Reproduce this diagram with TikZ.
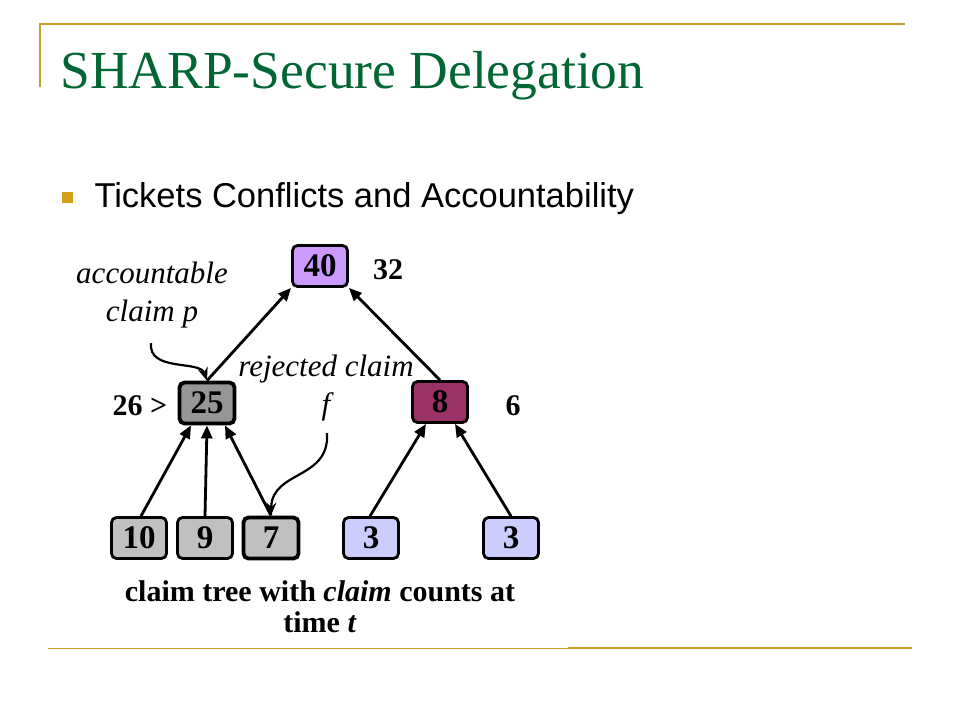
\documentclass[tikz,border=0pt]{standalone}
\usepackage{fontspec}
\setmainfont{Liberation Serif}
\newfontfamily\arialfont{Liberation Sans}
\usetikzlibrary{arrows.meta}
\definecolor{slidegold}{RGB}{196,160,48}
\definecolor{bulletgold}{RGB}{212,160,23}
\definecolor{titlegreen}{RGB}{0,102,51}
\definecolor{rootpurple}{RGB}{204,153,255}
\definecolor{midgray}{RGB}{150,150,150}
\definecolor{leafgray}{RGB}{192,192,192}
\definecolor{leafblue}{RGB}{204,204,255}
\definecolor{plum}{RGB}{153,51,102}

\begin{document}
\begin{tikzpicture}[x=1pt,y=-1pt,
  claim/.style={draw=black,line width=2.8pt,rounded corners=5pt,minimum width=55pt,minimum height=41pt,
    inner sep=0pt,font=\fontsize{33}{33}\selectfont\bfseries},
  heavy/.style={line width=3.8pt},
  count/.style={font=\fontsize{30}{30}\selectfont\bfseries},
  note/.style={font=\fontsize{31}{38}\selectfont\itshape,align=center},
  edge/.style={line width=2.8pt,-{Triangle[length=13pt,width=11pt]}},
  pointer/.style={line width=2.2pt,-{Stealth[length=13pt,width=10pt,open]}}]
\useasboundingbox (0,0) rectangle (960,720);
% slide frame
\draw[slidegold,line width=2pt] (40,87) -- (40,24) -- (905,24);
\draw[slidegold,line width=1pt] (48,648) -- (568,648);
\draw[slidegold,line width=2pt] (568,648) -- (912,648);
\node[anchor=base west,text=titlegreen,font=\fontsize{53.5}{54}\selectfont] (title) at (57,88) {SHARP-Secure Delegation};
\fill[bulletgold] (62,192) rectangle (73,203);
\node[anchor=base west,font=\arialfont\fontsize{34.5}{35}\selectfont] (bullet) at (91,207) {Tickets Conflicts and Accountability};
% claim tree
\node[claim,fill=rootpurple] (n40) at (320,266) {40};
\node[claim,heavy,fill=midgray] (n25) at (207,403) {25};
\node[claim,fill=plum] (n8) at (440,402) {8};
\node[claim,fill=leafgray] (n10) at (139,538) {10};
\node[claim,fill=leafgray] (n9) at (205,538) {9};
\node[claim,heavy,fill=leafgray] (n7) at (271,538) {7};
\node[claim,fill=leafblue] (n3a) at (371,538) {3};
\node[claim,fill=leafblue] (n3b) at (511,538) {3};
\draw[edge] (n25.north) -- (n40.south west);
\draw[edge] (n8.north) -- (n40.south east);
\draw[edge] ([xshift=2pt]n10.north) -- ([xshift=-16pt]n25.south);
\draw[edge] (n9.north) -- (n25.south);
\draw[edge] (n7.north) -- ([xshift=18pt]n25.south);
\draw[edge] ([xshift=-1pt]n3a.north) -- ([xshift=-14pt]n8.south);
\draw[edge] (n3b.north) -- ([xshift=15pt]n8.south);
% counts
\node[count] (c32) at (388,270) {32};
\node[count] (c26) at (140,406) {26 >};
\node[count] (c6) at (513,406) {6};
% notes
\node[note] (acc) at (152,295) {accountable\\claim \textit{p}};
\node[note] (rej) at (326,388) {rejected claim\\\textit{f}};
\draw[pointer] (151,343) .. controls (148,372) and (200,360) .. (n25.north);
\draw[pointer] (327,433) .. controls (330,480) and (272,470) .. (n7.north);
% caption
\node[font=\fontsize{30}{31}\selectfont\bfseries,align=center] (cap) at (320,607)
  {claim tree with \textit{claim} counts at\\time \textit{t}};
\end{tikzpicture}
\end{document}
